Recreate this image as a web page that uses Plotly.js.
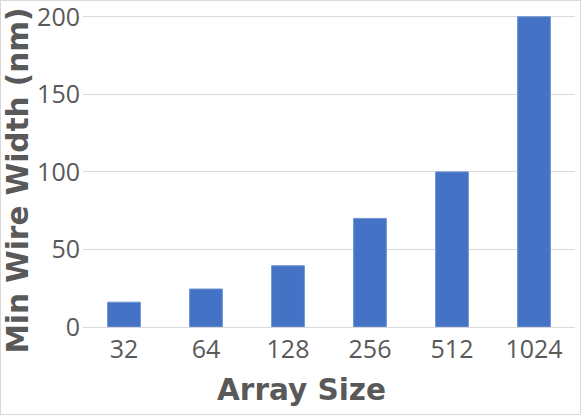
<!DOCTYPE html>
<html>
<head>
<meta charset="utf-8">
<script src="https://cdn.plot.ly/plotly-3.0.1.min.js"></script>
<style>
  html, body { margin: 0; padding: 0; background: #fff; }
  #chart { width: 581px; height: 415px; box-sizing: border-box; border: 1px solid #d9d9d9; }
</style>
</head>
<body>
<div id="chart"></div>
<script>
const arraySizes = ['32', '64', '128', '256', '512', '1024'];
const minWireWidth = [16, 24.5, 39.5, 70, 100, 200];
const yTicks = [0, 50, 100, 150, 200];

const W = 579, H = 413;
// plot top sits a little above the 200 line so that line is kept
const margin = {l: 81.5, r: 4.5, t: 8.25, b: 87};
const pw = W - margin.l - margin.r, ph = H - margin.t - margin.b;
// pixel -> paper coords for the title placement
const px = x => (x - 1 - margin.l) / pw;
const py = y => (H - margin.b - (y - 1)) / ph;

const grey = '#595959';

const bars = {
    x: arraySizes,
    y: minWireWidth,
    type: 'bar',
    marker: {color: '#4472c4', line: {color: '#6f93d4', width: 1}},
    hoverinfo: 'x+y'
};

const layout = {
    width: W,
    height: H,
    margin: margin,
    paper_bgcolor: '#fff',
    plot_bgcolor: '#fff',
    showlegend: false,
    bargap: 0.6,
    font: {family: '"Open Sans", sans-serif', color: grey},
    xaxis: {
        type: 'category',
        tickfont: {size: 25, color: grey},
        showgrid: false,
        showline: true,
        linecolor: '#d9d9d9',
        linewidth: 1,
        ticks: '',
        ticklabelstandoff: 0,
        fixedrange: true
    },
    yaxis: {
        range: [0, 205],
        tickvals: yTicks,
        tickfont: {size: 25, color: grey},
        ticklabeloverflow: 'allow',
        showgrid: true,
        gridcolor: '#d9d9d9',
        gridwidth: 1,
        zeroline: false,
        showline: false,
        ticks: '',
        ticklabelstandoff: 2,
        fixedrange: true
    },
    annotations: [
        {
            text: 'Min Wire Width (nm)',
            xref: 'paper', yref: 'paper',
            x: px(17), y: py(181),
            xanchor: 'center', yanchor: 'middle',
            textangle: -90,
            showarrow: false,
            font: {family: '"DejaVu Sans", Verdana, sans-serif', size: 29.5, color: grey, weight: 'bold'}
        },
        {
            text: 'Array Size',
            xref: 'paper', yref: 'paper',
            x: px(301.5), y: py(390),
            xanchor: 'center', yanchor: 'middle',
            showarrow: false,
            font: {family: '"DejaVu Sans", Verdana, sans-serif', size: 29.5, color: grey, weight: 'bold'}
        }
    ]
};

Plotly.newPlot('chart', [bars], layout, {displayModeBar: false, staticPlot: true});
</script>
</body>
</html>
